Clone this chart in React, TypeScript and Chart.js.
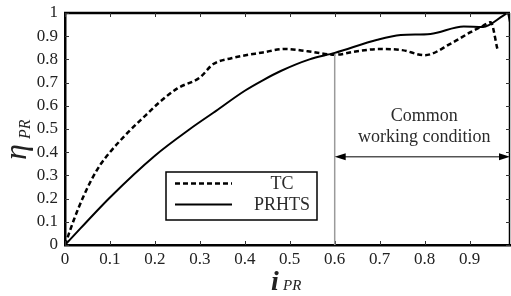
import React, { useEffect, useRef } from "react";
import { Chart, registerables } from "chart.js";

Chart.register(...registerables);

const tcX = [0, 0.02, 0.04, 0.06, 0.08, 0.1, 0.14, 0.18, 0.21, 0.25, 0.3, 0.33, 0.37, 0.44, 0.49, 0.54, 0.6, 0.65, 0.7, 0.75, 0.8, 0.86, 0.9, 0.93, 0.947, 0.962];
const tcY = [0, 0.11, 0.205, 0.285, 0.35, 0.4, 0.485, 0.56, 0.615, 0.675, 0.722, 0.78, 0.805, 0.83, 0.845, 0.835, 0.82, 0.835, 0.845, 0.84, 0.818, 0.87, 0.915, 0.945, 0.96, 0.845];

const prX = [0, 0.1, 0.2, 0.278, 0.33, 0.4, 0.44, 0.48, 0.544, 0.6, 0.695, 0.747, 0.813, 0.887, 0.93, 0.976, 0.985, 0.99];
const prY = [0, 0.205, 0.385, 0.5, 0.57, 0.665, 0.71, 0.75, 0.8, 0.828, 0.885, 0.905, 0.91, 0.942, 0.94, 0.99, 1.0, 0.96];

const xTickValues = [0, 0.1, 0.2, 0.3, 0.4, 0.5, 0.6, 0.7, 0.8, 0.9];
const yTickValues = [0, 0.1, 0.2, 0.3, 0.4, 0.5, 0.6, 0.7, 0.8, 0.9, 1];

const seriesNames = ["TC", "PRHTS"];
const markerX = 0.6;
const markerY = 0.822;
const arrowY = 0.38;
const annotationLines = ["Common", "working condition"];

const SERIF = "'Liberation Serif', 'Times New Roman', serif";

const overlay = {
  id: "overlay",
  afterDraw(chart: any) {
    const { ctx, chartArea, scales } = chart;
    const xs = scales.x;
    const ys = scales.y;
    const { left, right, top, bottom } = chartArea;
    ctx.save();

    // top & right borders
    ctx.strokeStyle = "#000";
    ctx.lineWidth = 2.5;
    ctx.beginPath();
    ctx.moveTo(left - 1, top);
    ctx.lineTo(right, top);
    ctx.stroke();
    ctx.lineWidth = 1.5;
    ctx.beginPath();
    ctx.moveTo(right - 0.5, top);
    ctx.lineTo(right - 0.5, bottom);
    ctx.stroke();

    // inward ticks
    ctx.lineWidth = 1;
    ctx.strokeStyle = "#333";
    for (const v of xTickValues) {
      const px = Math.round(xs.getPixelForValue(v)) + 0.5;
      ctx.beginPath();
      ctx.moveTo(px, bottom);
      ctx.lineTo(px, bottom - 4);
      ctx.moveTo(px, top);
      ctx.lineTo(px, top + 4);
      ctx.stroke();
    }
    for (const v of yTickValues) {
      const py = Math.round(ys.getPixelForValue(v)) + 0.5;
      ctx.beginPath();
      ctx.moveTo(left, py);
      ctx.lineTo(left + 4, py);
      ctx.moveTo(right, py);
      ctx.lineTo(right - 4, py);
      ctx.stroke();
    }

    // grey vertical line
    const mx = xs.getPixelForValue(markerX);
    ctx.strokeStyle = "#9a9a9a";
    ctx.lineWidth = 1.5;
    ctx.beginPath();
    ctx.moveTo(mx, ys.getPixelForValue(markerY));
    ctx.lineTo(mx, bottom);
    ctx.stroke();

    // double arrow
    const ay = ys.getPixelForValue(arrowY);
    const ax1 = mx;
    const ax2 = right;
    ctx.strokeStyle = "#000";
    ctx.fillStyle = "#000";
    ctx.lineWidth = 1;
    ctx.beginPath();
    ctx.moveTo(ax1 + 6, ay);
    ctx.lineTo(ax2 - 6, ay);
    ctx.stroke();
    ctx.beginPath();
    ctx.moveTo(ax1, ay);
    ctx.lineTo(ax1 + 11, ay - 3.5);
    ctx.lineTo(ax1 + 11, ay + 3.5);
    ctx.closePath();
    ctx.fill();
    ctx.beginPath();
    ctx.moveTo(ax2, ay);
    ctx.lineTo(ax2 - 11, ay - 3.5);
    ctx.lineTo(ax2 - 11, ay + 3.5);
    ctx.closePath();
    ctx.fill();

    // annotation text
    const cx = (ax1 + ax2) / 2 + 2;
    ctx.fillStyle = "#2a2a2a";
    ctx.font = `18px ${SERIF}`;
    ctx.textAlign = "center";
    ctx.textBaseline = "middle";
    ctx.fillText(annotationLines[0], cx, ay - 41);
    ctx.fillText(annotationLines[1], cx, ay - 20);

    // legend box
    const lx = 166, ly = 172, lw = 151, lh = 48;
    ctx.strokeStyle = "#000";
    ctx.lineWidth = 1.5;
    ctx.fillStyle = "#fff";
    ctx.fillRect(lx, ly, lw, lh);
    ctx.strokeRect(lx, ly, lw, lh);
    ctx.lineWidth = 2.5;
    ctx.setLineDash([5, 3]);
    ctx.beginPath();
    ctx.moveTo(lx + 9, ly + 11.5);
    ctx.lineTo(lx + 66, ly + 11.5);
    ctx.stroke();
    ctx.setLineDash([]);
    ctx.lineWidth = 2;
    ctx.beginPath();
    ctx.moveTo(lx + 9, ly + 32.5);
    ctx.lineTo(lx + 66, ly + 32.5);
    ctx.stroke();
    ctx.fillStyle = "#2a2a2a";
    ctx.font = `18px ${SERIF}`;
    ctx.textAlign = "center";
    ctx.fillText(seriesNames[0], lx + 116, ly + 12);
    ctx.fillText(seriesNames[1], lx + 116, ly + 33);

    // x axis title
    ctx.fillStyle = "#222";
    ctx.textAlign = "left";
    ctx.textBaseline = "alphabetic";
    ctx.font = `italic bold 28px ${SERIF}`;
    ctx.fillText("i", 271, 290);
    ctx.font = `italic 15px ${SERIF}`;
    ctx.fillText("PR", 283, 290);

    // y axis title
    ctx.save();
    ctx.translate(26, 160);
    ctx.rotate(-Math.PI / 2);
    ctx.font = `italic 32px ${SERIF}`;
    ctx.fillText("\u03b7", 0, 0);
    ctx.font = `italic 16px ${SERIF}`;
    ctx.fillText("PR", 21, 4);
    ctx.restore();

    ctx.restore();
  },
};

export default function App() {
  const ref = useRef<HTMLCanvasElement>(null);
  useEffect(() => {
    document.body.style.margin = "0";
    const canvas = ref.current!;
    const fmt = (v: number) => {
      const r = Math.round(v * 10) / 10;
      return r === 0 ? "0" : r === 1 ? "1" : r.toFixed(1);
    };
    const chart = new Chart(canvas, {
      type: "line",
      data: {
        datasets: [
          {
            label: seriesNames[0],
            data: tcX.map((x, i) => ({ x, y: tcY[i] })),
            borderColor: "#000",
            borderWidth: 2.5,
            borderDash: [5, 3],
            pointRadius: 0,
            cubicInterpolationMode: "monotone",
            fill: false,
          },
          {
            label: seriesNames[1],
            data: prX.map((x, i) => ({ x, y: prY[i] })),
            borderColor: "#000",
            borderWidth: 2,
            pointRadius: 0,
            cubicInterpolationMode: "monotone",
            fill: false,
          },
        ],
      },
      options: {
        animation: false,
        responsive: false,
        layout: { padding: { top: 13, right: 1, left: 0, bottom: 0 } },
        plugins: { legend: { display: false }, tooltip: { enabled: false } },
        scales: {
          x: {
            type: "linear",
            min: 0,
            max: 0.99,
            grid: { display: false, drawTicks: false },
            border: { display: true, width: 2.5, color: "#000" },
            ticks: {
              stepSize: 0.1,
              includeBounds: false,
              padding: 4,
              color: "#222",
              font: { family: SERIF, size: 17 },
              maxRotation: 0,
              autoSkip: false,
              callback: (v: any) => fmt(Number(v)),
            },
            afterFit: (s: any) => {
              s.height = 51;
              s.paddingLeft = 0;
              s.paddingRight = 0;
            },
          },
          y: {
            type: "linear",
            min: 0,
            max: 1,
            grid: { display: false, drawTicks: false },
            border: { display: true, width: 2.5, color: "#000" },
            ticks: {
              stepSize: 0.1,
              padding: 7,
              color: "#222",
              font: { family: SERIF, size: 17 },
              autoSkip: false,
              callback: (v: any) => fmt(Number(v)),
            },
            afterFit: (s: any) => {
              s.width = 65;
              s.paddingTop = 0;
              s.paddingBottom = 0;
            },
          },
        },
      } as any,
      plugins: [overlay],
    });
    return () => chart.destroy();
  }, []);
  return (
    <div style={{ width: 511, height: 296, background: "#fff" }}>
      <canvas ref={ref} width={511} height={296} />
    </div>
  );
}
